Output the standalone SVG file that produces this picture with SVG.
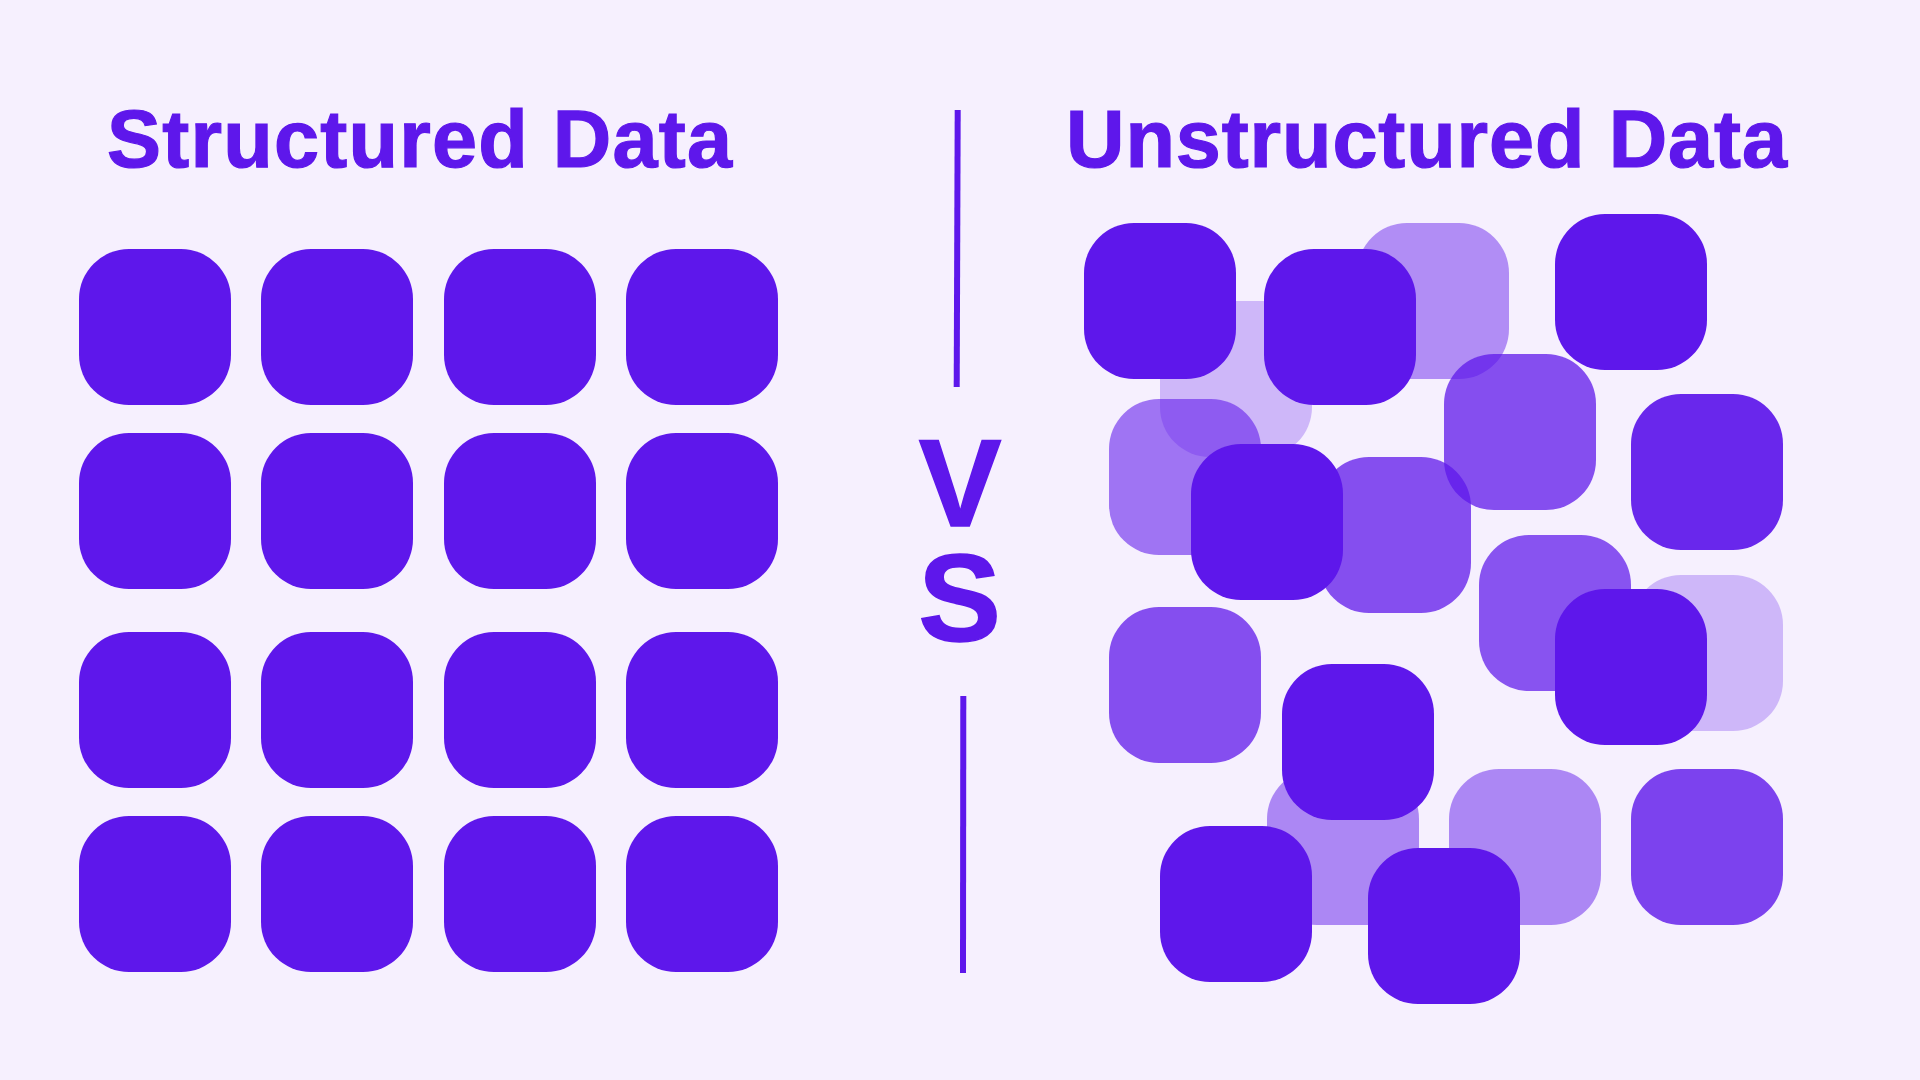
<svg xmlns="http://www.w3.org/2000/svg" xmlns:xlink="http://www.w3.org/1999/xlink" width="1920" height="1080" viewBox="0 0 1920 1080">
  <style>
    .bg { fill: #F6F0FE; }
    .sq { fill: #5E17EB; }
    .title { font-family: "Liberation Sans", Arial, sans-serif; font-weight: 700; font-size: 81px; fill: #5E17EB; stroke: #5E17EB; stroke-width: 1.2; }
    .vs { font-family: "Liberation Sans", Arial, sans-serif; font-weight: 700; font-size: 124px; fill: #5E17EB; stroke: #5E17EB; stroke-width: 1.5; text-anchor: middle; }
    .div { stroke: #5E17EB; stroke-width: 6; fill: none; }
    .a25 { opacity: 0.26; }
    .a45 { opacity: 0.45; }
    .a50 { opacity: 0.48; }
    .a58 { opacity: 0.57; }
    .a72 { opacity: 0.72; }
    .a75 { opacity: 0.74; }
    .a80 { opacity: 0.80; }
    .a92 { opacity: 0.92; }
  </style>
  <defs>
    <rect id="tile" width="152" height="156" rx="50" ry="50"/>
  </defs>
  <rect class="bg" x="0" y="0" width="1920" height="1080"/>

  <!-- Titles -->
  <g id="title-structured">
    <text class="title" x="107" y="167" textLength="625" lengthAdjust="spacing">Structured Data</text>
  </g>
  <g id="title-unstructured">
    <text class="title" x="1066" y="167" textLength="721" lengthAdjust="spacing">Unstructured Data</text>
  </g>

  <!-- Divider and VS -->
  <g id="dividers">
    <line class="div" x1="957.7" y1="110" x2="956.7" y2="387"/>
    <line class="div" x1="963.3" y1="696" x2="963" y2="973"/>
  </g>
  <g id="vs-label">
    <text class="vs"><tspan x="960" y="526">V</tspan><tspan x="959.5" y="641">S</tspan></text>
  </g>

  <!-- Structured grid -->
  <g id="structured-grid" class="sq">
    <g id="s-r1c1"><use xlink:href="#tile" x="79" y="249"/></g>
    <g id="s-r1c2"><use xlink:href="#tile" x="261" y="249"/></g>
    <g id="s-r1c3"><use xlink:href="#tile" x="444" y="249"/></g>
    <g id="s-r1c4"><use xlink:href="#tile" x="626" y="249"/></g>
    <g id="s-r2c1"><use xlink:href="#tile" x="79" y="433"/></g>
    <g id="s-r2c2"><use xlink:href="#tile" x="261" y="433"/></g>
    <g id="s-r2c3"><use xlink:href="#tile" x="444" y="433"/></g>
    <g id="s-r2c4"><use xlink:href="#tile" x="626" y="433"/></g>
    <g id="s-r3c1"><use xlink:href="#tile" x="79" y="632"/></g>
    <g id="s-r3c2"><use xlink:href="#tile" x="261" y="632"/></g>
    <g id="s-r3c3"><use xlink:href="#tile" x="444" y="632"/></g>
    <g id="s-r3c4"><use xlink:href="#tile" x="626" y="632"/></g>
    <g id="s-r4c1"><use xlink:href="#tile" x="79" y="816"/></g>
    <g id="s-r4c2"><use xlink:href="#tile" x="261" y="816"/></g>
    <g id="s-r4c3"><use xlink:href="#tile" x="444" y="816"/></g>
    <g id="s-r4c4"><use xlink:href="#tile" x="626" y="816"/></g>
  </g>

  <!-- Unstructured scatter -->
  <g id="unstructured" class="sq">
    <g id="u-b" class="a25"><use xlink:href="#tile" x="1160" y="301"/></g>
    <g id="u-d" class="a45"><use xlink:href="#tile" x="1357" y="223"/></g>
    <g id="u-f" class="a58"><use xlink:href="#tile" x="1109" y="399"/></g>
    <g id="u-g" class="a75"><use xlink:href="#tile" x="1444" y="354"/></g>
    <g id="u-j" class="a75"><use xlink:href="#tile" x="1319" y="457"/></g>
    <g id="u-k" class="a72"><use xlink:href="#tile" x="1479" y="535"/></g>
    <g id="u-l" class="a25"><use xlink:href="#tile" x="1631" y="575"/></g>
    <g id="u-h" class="a92"><use xlink:href="#tile" x="1631" y="394"/></g>
    <g id="u-n" class="a75"><use xlink:href="#tile" x="1109" y="607"/></g>
    <g id="u-p" class="a50"><use xlink:href="#tile" x="1267" y="769"/></g>
    <g id="u-q" class="a50"><use xlink:href="#tile" x="1449" y="769"/></g>
    <g id="u-r" class="a80"><use xlink:href="#tile" x="1631" y="769"/></g>
    <g id="u-a"><use xlink:href="#tile" x="1084" y="223"/></g>
    <g id="u-c"><use xlink:href="#tile" x="1264" y="249"/></g>
    <g id="u-e"><use xlink:href="#tile" x="1555" y="214"/></g>
    <g id="u-i"><use xlink:href="#tile" x="1191" y="444"/></g>
    <g id="u-m"><use xlink:href="#tile" x="1555" y="589"/></g>
    <g id="u-o"><use xlink:href="#tile" x="1282" y="664"/></g>
    <g id="u-s"><use xlink:href="#tile" x="1160" y="826"/></g>
    <g id="u-t"><use xlink:href="#tile" x="1368" y="848"/></g>
  </g>
</svg>
